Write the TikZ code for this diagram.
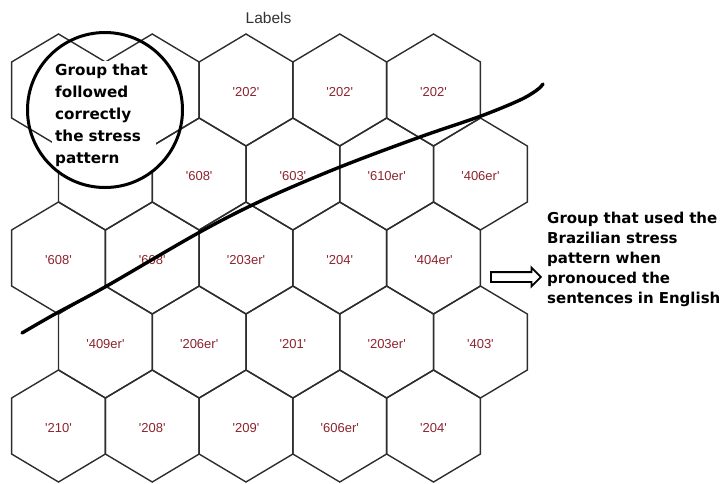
\documentclass[tikz,border=0pt]{standalone}
\usepackage{fontspec}
\newfontfamily\cellfont{Liberation Sans}
\newfontfamily\notefont{DejaVu Sans}
\usepackage{tikz}
\usetikzlibrary{
    shapes.arrows
}
\definecolor{hexgray}{RGB}{45,45,45}
\definecolor{cellred}{RGB}{140,35,45}
\definecolor{titlegray}{RGB}{50,50,50}
\newcommand{\cellq}[1]{\textquotesingle#1\textquotesingle}
\tikzset{
    hexcell/.style={
        draw=hexgray,
        line width=1.4pt
    },
    celllabel/.style={
        text=cellred,
        inner sep=0pt,
        font=\cellfont\fontsize{13}{15}\selectfont
    },
    maptitle/.style={
        text=titlegray,
        inner sep=0pt,
        font=\cellfont\fontsize{15.5}{18}\selectfont
    },
    groupnote/.style={
        align=left,
        inner sep=0pt,
        font=\notefont\bfseries\fontsize{15}{20}\selectfont
    },
    ring/.style={
        circle,
        draw=black,
        line width=3pt,
        minimum size=155pt,
        inner sep=0pt
    },
    divider/.style={
        line width=3.4pt,
        line cap=round
    },
    hollowarrow/.style={
        single arrow,
        draw=black,
        line width=1.8pt,
        minimum height=50pt,
        inner xsep=0pt,
        inner ysep=4pt,
        single arrow head extend=4.5pt
    }
}

\begin{document}
\begin{tikzpicture}[
    x=1pt,
    y=-1pt
]
    \useasboundingbox (0,0) rectangle (728,483);

    % Titulo
    \node[maptitle, anchor=base] (title) at (268.5,23) {Labels};

    % Rejilla hexagonal
    \foreach \r in {0,...,4}{
        \foreach \c in {0,...,4}{
            \pgfmathsetmacro{\cx}{58.5+93.75*\c+46.9*mod(\r,2)}
            \pgfmathsetmacro{\cy}{90+84*\r}
            \draw[hexcell] (\cx,\cy-56) -- ++(46.9,28) -- ++(0,56)
                -- ++(-46.9,28) -- ++(-46.9,-28) -- ++(0,-56) -- cycle;
        }
    }

    % Etiquetas de las celdas
    \foreach \r/\c/\t in {
        0/2/202, 0/3/202, 0/4/202,
        1/1/608, 1/2/603, 1/3/610er, 1/4/406er,
        2/0/608, 2/1/608, 2/2/203er, 2/3/204, 2/4/404er,
        3/0/409er, 3/1/206er, 3/2/201, 3/3/203er, 3/4/403,
        4/0/210, 4/1/208, 4/2/209, 4/3/606er, 4/4/204}{
        \pgfmathsetmacro{\cx}{58.5+93.75*\c+46.9*mod(\r,2)}
        \pgfmathsetmacro{\cy}{92+84*\r}
        \node[celllabel] (cell\r\c) at (\cx,\cy) {\cellq{\t}};
    }

    % Linea divisoria
    \draw[divider] plot[smooth, tension=0.55] coordinates {
        (22,333) (55,314) (105,287) (200,232) (265,199) (340,167)
        (420,137) (481,116) (520,100) (537,90) (543,84)};

    % Grupo de arriba
    \node[groupnote, fill=white, inner sep=3pt, text width=98pt,
        anchor=north west, font=\notefont\bfseries\fontsize{15.2}{22}\selectfont]
        (groupA) at (52,61)
        {Group that\\followed\\correctly\\the stress\\pattern};
    \node[ring] (groupring) at (105,110) {};

    % Grupo de la derecha
    \node[hollowarrow, anchor=tail] (pointer) at (490,277) {};
    \node[groupnote, text width=185pt, anchor=north west] (groupB) at (547,211.5)
        {Group that used the\\Brazilian stress\\pattern when\\pronouced the\\sentences in English};

\end{tikzpicture}
\end{document}
